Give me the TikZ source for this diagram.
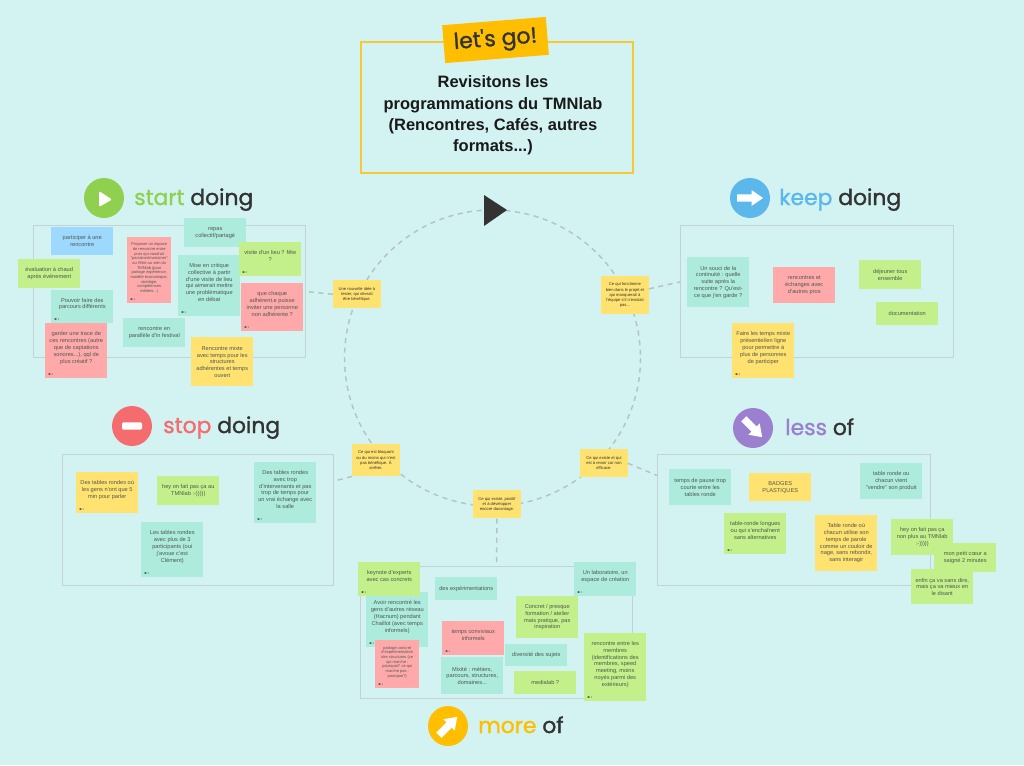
\documentclass[tikz,border=0pt]{standalone}
\usepackage{fontspec}
\setmainfont{Liberation Sans}
\newfontfamily\headfont{Poppins}[FakeBold=1.3]
\usetikzlibrary{calc}

\definecolor{appbg}{HTML}{D3F2F2}
\definecolor{framegray}{HTML}{C4D2D2}
\definecolor{dashgray}{HTML}{B4C4C4}
\definecolor{inkdark}{HTML}{333333}
\definecolor{notetext}{HTML}{4F5A50}
\definecolor{tealnote}{HTML}{ADEBDC}
\definecolor{yellownote}{HTML}{FFE26F}
\definecolor{pinknote}{HTML}{FFA9AB}
\definecolor{limenote}{HTML}{C3F08A}
\definecolor{bluenote}{HTML}{9DD9FF}
\definecolor{startgreen}{HTML}{8FD14F}
\definecolor{keepblue}{HTML}{5CB8EA}
\definecolor{stopred}{HTML}{F56C6E}
\definecolor{lesspurple}{HTML}{9A80CF}
\definecolor{moreorange}{HTML}{FFBF00}
\definecolor{titleyellow}{HTML}{F7C936}

\newcommand{\eyeroom}{\\\mbox{}}
\newcommand{\noteeye}[1]{
    \fill[notetext] ($(#1.south west)+(4.5,-4.5)$) ellipse (1.5 and 0.9);
    \fill[notetext] ($(#1.south west)+(7.2,-4)$) circle (0.3);
    \fill[notetext] ($(#1.south west)+(7.2,-5.2)$) circle (0.3);
}
\newcommand{\whitearrow}[2]{
    \fill[white, shift={(#1)}, rotate=#2] (-13,-3.7) -- (1.5,-3.7) -- (1.5,-8) -- (13,0) -- (1.5,8) -- (1.5,3.7) -- (-13,3.7) -- cycle;
}

\begin{document}
\begin{tikzpicture}[
        x=0.75pt,
        y=-0.75pt,
        note/.style={anchor=north west, inner sep=0pt, minimum width=46.5pt, align=center,
            text=notetext, font=\fontsize{4.25}{5.1}\selectfont},
        noteh/.style={minimum height=#1*0.75pt},
        tinynote/.style={note, minimum width=33pt, font=\fontsize{3}{3.5}\selectfont},
        guide/.style={note, minimum width=35.5pt, font=\fontsize{3.1}{3.9}\selectfont, text=inkdark, fill=yellownote},
        teal/.style={note, fill=tealnote},
        yellow/.style={note, fill=yellownote},
        pink/.style={note, fill=pinknote},
        lime/.style={note, fill=limenote},
        sky/.style={note, fill=bluenote},
        frame/.style={draw=framegray, line width=0.75pt, anchor=north west, inner sep=0pt},
        link/.style={draw=dashgray, line width=1.1pt, dash pattern=on 3.8pt off 3.4pt},
        headdot/.style={circle, minimum size=30pt, inner sep=0pt},
        headlabel/.style={anchor=base west, inner sep=0pt, text=inkdark, font=\fontsize{16.4}{20}\headfont}
    ]
    \useasboundingbox (0,0) rectangle (1024,765);
    \fill[appbg] (0,0) rectangle (1024,765);

    % title
    \node[draw=titleyellow, line width=1.5pt, anchor=north west, inner sep=0pt, minimum width=204pt, minimum height=98pt] (titlebox) at (360,41) {};
    \node[fill=moreorange, rotate=4.6, inner sep=0pt, minimum width=78pt, minimum height=28.5pt, text=inkdark, font=\fontsize{16.5}{20}\headfont] (letsgo) at (495.5,40) {let's go!};
    \node[align=center, text=black!90, font=\fontsize{12.35}{16.1}\bfseries\selectfont] (titletext) at (493,115.5) {Revisitons les\\programmations du TMNlab\\(Rencontres, Cafés, autres\\formats...)};

    % frames
    \node[frame, minimum width=204pt, minimum height=99pt] (startframe) at (33,225) {};
    \node[frame, minimum width=204.75pt, minimum height=99pt] (keepframe) at (680,225) {};
    \node[frame, minimum width=203.25pt, minimum height=98.25pt] (stopframe) at (62,454) {};
    \node[frame, minimum width=204.75pt, minimum height=98.25pt] (lessframe) at (657,454) {};
    \node[frame, minimum width=204pt, minimum height=99pt] (moreframe) at (360,566) {};

    % wheel
    \draw[link] (492.5,358) circle (148);
    \fill[inkdark] (484,195) -- (484,226) -- (507,210) -- cycle;

    \node[guide, noteh=28] (newidea) at (333,280) {Une nouvelle idée à\\tester, qui devrait\\être bénéfique.};
    \node[guide, noteh=38] (working) at (601,276) {Ce qui fonctionne\\bien dans le projet et\\qui manquerait à\\l'équipe s'il n'existait\\pas...};
    \node[guide, noteh=32] (blocking) at (352,444) {Ce qui est bloquant\\ou du moins qui n'est\\pas bénéfique. À\\arrêter.};
    \node[guide, noteh=28] (review) at (580,449) {Ce qui existe et qui\\est à revoir car non\\efficace.};
    \node[guide, noteh=28] (positive) at (473,490) {Ce qui existe, positif\\et à développer\\encore davantage.};

    \draw[link] (newidea.west) -- (startframe.east);
    \draw[link] (working.15) -- (keepframe.176);
    \draw[link] (blocking.south west) -- (stopframe.16);
    \draw[link] (review.east) -- (lessframe.162);
    \draw[link] (positive.south) -- (moreframe.north);

    % start doing
    \node[headdot, fill=startgreen] (startdot) at (104,198) {};
    \fill[white, rounded corners=1pt] (99,191) -- (99,207) -- (112,199.5) -- cycle;
    \node[headlabel] (startlabel) at (134,205) {\textcolor{startgreen}{start} doing};

    \node[sky, noteh=28] (encounter) at (51,227) {participer à une\\rencontre};
    \node[lime, noteh=29] (feedback) at (18,259) {évaluation à chaud\\après événement};
    \node[teal, noteh=33] (paths) at (51,290) {Pouvoir faire des\\parcours différents\eyeroom};
    \node[pink, noteh=55] (trace) at (45,323) {garder une trace de\\ces rencontres (autre\\que de captations\\sonores...), qql de\\plus créatif ?\eyeroom};
    \node[tinynote, fill=pinknote, noteh=66] (mentor) at (127,237) {Proposer un espace\\de rencontre entre\\pros qui voudrait\\"parrainer/marrainer"\\ou l'être au sein du\\TMNlab (pour\\partage expérience,\\modèle économique,\\stratégie,\\compétences\\métiers...)\eyeroom};
    \node[teal, noteh=29] (meal) at (184,218) {repas\\collectif/partagé};
    \node[teal, noteh=61] (critique) at (178,255) {Mise en critique\\collective à partir\\d'une visite de lieu\\qui aimerait mettre\\une problématique\\en débat\eyeroom};
    \node[lime, noteh=34] (visit) at (239,242) {visite d'un lieu ? fête\\?\eyeroom};
    \node[pink, noteh=48] (guest) at (241,283) {que chaque\\adhérent.e puisse\\inviter une personne\\non adhérente ?\eyeroom};
    \node[teal, noteh=29] (festival) at (123,318) {rencontre en\\parallèle d'in festival};
    \node[yellow, noteh=49] (mixed) at (191,337) {Rencontre mixte\\avec temps pour les\\structures\\adhérentes et temps\\ouvert};
    \noteeye{paths}
    \noteeye{trace}
    \noteeye{mentor}
    \noteeye{critique}
    \noteeye{visit}
    \noteeye{guest}

    % keep doing
    \node[headdot, fill=keepblue] (keepdot) at (750,198) {};
    \whitearrow{keepdot}{0}
    \node[headlabel] (keeplabel) at (779,205) {\textcolor{keepblue}{keep} doing};

    \node[teal, noteh=50] (continuity) at (687,257) {Un souci de la\\continuité : quelle\\suite après la\\rencontre ? Qu'est-\\ce que j'en garde ?};
    \node[pink, noteh=36] (exchanges) at (773,267) {rencontres et\\échanges avec\\d'autres pros};
    \node[lime, noteh=29] (lunch) at (859,260) {déjeuner tous\\ensemble};
    \node[lime, noteh=23] (docs) at (876,302) {documentation};
    \node[yellow, noteh=55] (hybrid) at (732,323) {Faire les temps mixte\\présentiel/en ligne\\pour permettre à\\plus de personnes\\de participer\eyeroom};
    \noteeye{hybrid}

    % stop doing
    \node[headdot, fill=stopred] (stopdot) at (132,426) {};
    \fill[white, rounded corners=1pt] ($(stopdot)+(-10,-3.7)$) rectangle ($(stopdot)+(10,3.7)$);
    \node[headlabel] (stoplabel) at (163,433) {\textcolor{stopred}{stop} doing};

    \node[yellow, noteh=41] (fivemin) at (76,472) {Des tables rondes où\\les gens n'ont que 5\\min pour parler\eyeroom};
    \node[lime, noteh=29] (heyone) at (157,476) {hey on fait pas ça au\\TMNlab :-)))))};
    \node[teal, noteh=55] (threeplus) at (141,522) {Les tables rondes\\avec plus de 3\\participants (oui\\j'avoue c'est\\Clément)\eyeroom};
    \node[teal, noteh=61] (toomany) at (254,462) {Des tables rondes\\avec trop\\d'intervenants et pas\\trop de temps pour\\un vrai échange avec\\la salle\eyeroom};
    \noteeye{fivemin}
    \noteeye{threeplus}
    \noteeye{toomany}

    % less of
    \node[headdot, fill=lesspurple] (lessdot) at (753,428) {};
    \whitearrow{lessdot}{-45}
    \node[headlabel] (lesslabel) at (785,435) {\textcolor{lesspurple}{less} of};

    \node[teal, noteh=36] (shortbreak) at (669,469) {temps de pause trop\\courte entre les\\tables ronde};
    \node[yellow, noteh=28] (badges) at (749,473) {BADGES\\PLASTIQUES};
    \node[teal, noteh=36] (selling) at (860,463) {table ronde ou\\chacun vient\\"vendre" son produit};
    \node[lime, noteh=41] (longtable) at (724,513) {table-ronde longues\\ou qui s'enchaînent\\sans alternatives\eyeroom};
    \node[yellow, noteh=56] (swimlane) at (815,515) {Table ronde où\\chacun utilise son\\temps de parole\\comme un couloir de\\nage, sans rebondir,\\sans interagir};
    \node[lime, noteh=36] (heytwo) at (891,519) {hey on fait pas ça\\non plus au TMNlab\\:-)))))};
    \node[lime, noteh=29] (heart) at (934,543) {mon petit cœur a\\saigné 2 minutes};
    \node[lime, noteh=35] (saying) at (911,569) {enfin ça va sans dire,\\mais ça va mieux en\\le disant};
    \noteeye{longtable}

    % more of
    \node[headdot, fill=moreorange] (moredot) at (448,726) {};
    \whitearrow{moredot}{45}
    \node[headlabel] (morelabel) at (478,733) {\textcolor{moreorange}{more} of};

    \node[teal, noteh=55] (hacnum) at (366,592) {Avoir rencontré les\\gens d'autres réseau\\(Hacnum) pendant\\Chaillot (avec temps\\informels)\eyeroom};
    \node[lime, noteh=34] (keynote) at (358,562) {keynote d'experts\\avec cas concrets\eyeroom};
    \node[tinynote, fill=pinknote, noteh=48] (sharing) at (375,640) {partage concret\\d'expérimentation\\des structures (ce\\qui marche :\\pourquoi? ce qui\\marche pas :\\pourquoi?)\eyeroom};
    \node[teal, noteh=23] (experiments) at (435,577) {des expérimentations};
    \node[pink, noteh=34] (convivial) at (442,621) {temps conviviaux\\informels\eyeroom};
    \node[teal, noteh=37] (mixity) at (441,657) {Mixité : métiers,\\parcours, structures,\\domaines...};
    \node[teal, noteh=34] (lab) at (574,562) {Un laboratoire, un\\espace de création\eyeroom};
    \node[lime, noteh=42] (workshop) at (516,596) {Concret / presque\\formation / atelier\\mais pratique, pas\\inspiration};
    \node[teal, noteh=22] (diversity) at (505,644) {diversité des sujets};
    \node[lime, noteh=23] (medialab) at (514,671) {medialab ?};
    \node[lime, noteh=68] (members) at (584,633) {rencontre entre les\\membres\\(identifications des\\membres, speed\\meeting, moins\\noyés parmi des\\extérieurs)\eyeroom};
    \noteeye{hacnum}
    \noteeye{keynote}
    \noteeye{sharing}
    \noteeye{convivial}
    \noteeye{lab}
    \noteeye{members}
\end{tikzpicture}
\end{document}
